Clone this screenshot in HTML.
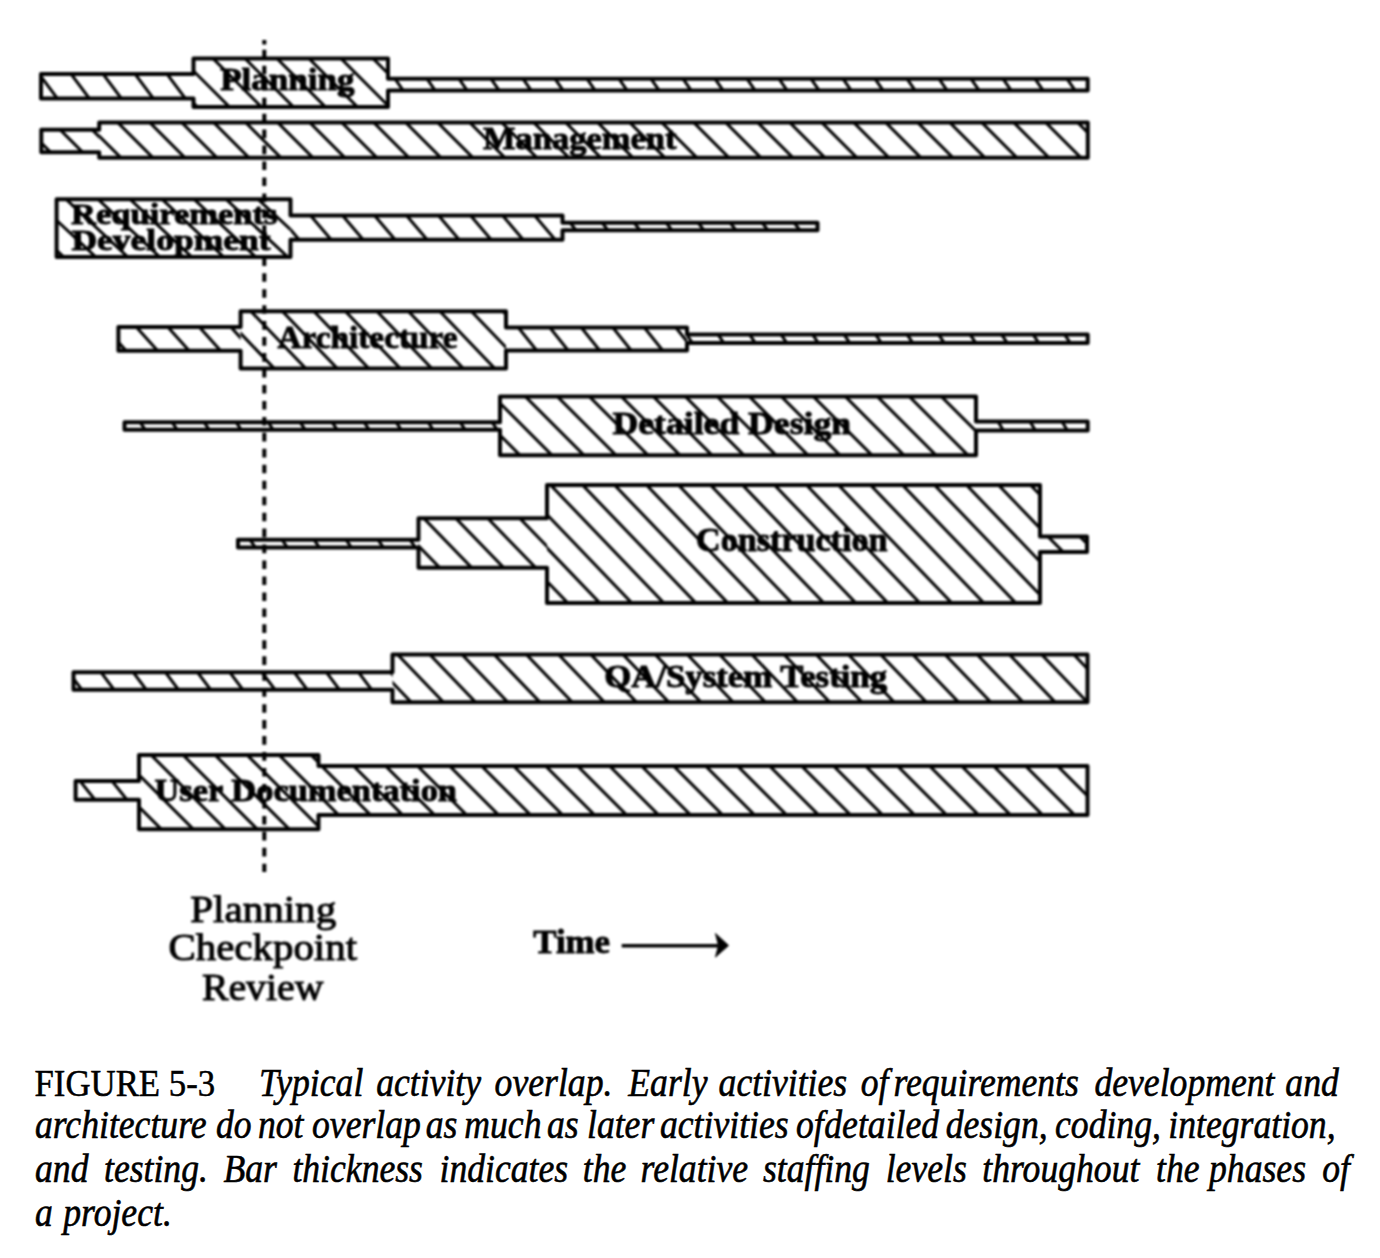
<!DOCTYPE html><html><head><meta charset="utf-8"><style>html,body{margin:0;padding:0;background:#fff;width:1380px;height:1258px;overflow:hidden}svg{display:block;position:absolute;left:0;top:0}#fig{filter:blur(0.8px)}text{font-family:"Liberation Serif",serif}</style></head><body>
<svg id="fig" width="1380" height="1258" viewBox="0 0 1380 1258">
<rect width="100%" height="100%" fill="#fff"/>
<g><svg x="41.0" y="74.0" width="152.5" height="24.5" viewBox="41.0 74.0 152.5 24.5" overflow="hidden"><path d="M-27.2 71.0L-4.4 101.5M4.8 71.0L27.6 101.5M36.8 71.0L59.6 101.5M68.8 71.0L91.6 101.5M100.8 71.0L123.6 101.5M132.8 71.0L155.6 101.5M164.8 71.0L187.6 101.5M196.8 71.0L219.6 101.5M228.8 71.0L251.6 101.5" stroke="#000" stroke-width="3.0" fill="none"/></svg><svg x="193.5" y="58.5" width="194.5" height="48.5" viewBox="193.5 58.5 194.5 48.5" overflow="hidden"><path d="M82.0 55.5L136.5 110.0M114.0 55.5L168.5 110.0M146.0 55.5L200.5 110.0M178.0 55.5L232.5 110.0M210.0 55.5L264.5 110.0M242.0 55.5L296.5 110.0M274.0 55.5L328.5 110.0M306.0 55.5L360.5 110.0M338.0 55.5L392.5 110.0M370.0 55.5L424.5 110.0M402.0 55.5L456.5 110.0M434.0 55.5L488.5 110.0" stroke="#000" stroke-width="3.0" fill="none"/></svg><svg x="388.0" y="78.8" width="699.7" height="11.6" viewBox="388.0 78.8 699.7 11.6" overflow="hidden"><path d="M328.9 75.8L341.2 93.4M360.9 75.8L373.2 93.4M392.9 75.8L405.2 93.4M424.9 75.8L437.2 93.4M456.9 75.8L469.2 93.4M488.9 75.8L501.2 93.4M520.9 75.8L533.2 93.4M552.9 75.8L565.2 93.4M584.9 75.8L597.2 93.4M616.9 75.8L629.2 93.4M648.9 75.8L661.2 93.4M680.9 75.8L693.2 93.4M712.9 75.8L725.2 93.4M744.9 75.8L757.2 93.4M776.9 75.8L789.2 93.4M808.9 75.8L821.2 93.4M840.9 75.8L853.2 93.4M872.9 75.8L885.2 93.4M904.9 75.8L917.2 93.4M936.9 75.8L949.2 93.4M968.9 75.8L981.2 93.4M1000.9 75.8L1013.2 93.4M1032.9 75.8L1045.2 93.4M1064.9 75.8L1077.2 93.4M1096.9 75.8L1109.2 93.4M1128.9 75.8L1141.2 93.4" stroke="#000" stroke-width="3.0" fill="none"/></svg></g>
<polygon points="41.0,74.0 193.5,74.0 193.5,58.5 388.0,58.5 388.0,78.8 1087.7,78.8 1087.7,90.4 388.0,90.4 388.0,107.0 193.5,107.0 193.5,98.5 41.0,98.5" fill="none" stroke="#000" stroke-width="4.0" stroke-linejoin="round"/>
<g><svg x="41.3" y="129.7" width="57.9" height="22.6" viewBox="41.3 129.7 57.9 22.6" overflow="hidden"><path d="M-38.9 126.7L-10.3 155.3M-6.9 126.7L21.7 155.3M25.1 126.7L53.7 155.3M57.1 126.7L85.7 155.3M89.1 126.7L117.7 155.3M121.1 126.7L149.7 155.3M153.1 126.7L181.7 155.3" stroke="#000" stroke-width="3.0" fill="none"/></svg><svg x="99.2" y="122.5" width="988.6" height="35.2" viewBox="99.2 122.5 988.6 35.2" overflow="hidden"><path d="M18.7 119.5L59.9 160.7M50.7 119.5L91.9 160.7M82.7 119.5L123.9 160.7M114.7 119.5L155.9 160.7M146.7 119.5L187.9 160.7M178.7 119.5L219.9 160.7M210.7 119.5L251.9 160.7M242.7 119.5L283.9 160.7M274.7 119.5L315.9 160.7M306.7 119.5L347.9 160.7M338.7 119.5L379.9 160.7M370.7 119.5L411.9 160.7M402.7 119.5L443.9 160.7M434.7 119.5L475.9 160.7M466.7 119.5L507.9 160.7M498.7 119.5L539.9 160.7M530.7 119.5L571.9 160.7M562.7 119.5L603.9 160.7M594.7 119.5L635.9 160.7M626.7 119.5L667.9 160.7M658.7 119.5L699.9 160.7M690.7 119.5L731.9 160.7M722.7 119.5L763.9 160.7M754.7 119.5L795.9 160.7M786.7 119.5L827.9 160.7M818.7 119.5L859.9 160.7M850.7 119.5L891.9 160.7M882.7 119.5L923.9 160.7M914.7 119.5L955.9 160.7M946.7 119.5L987.9 160.7M978.7 119.5L1019.9 160.7M1010.7 119.5L1051.9 160.7M1042.7 119.5L1083.9 160.7M1074.7 119.5L1115.9 160.7M1106.7 119.5L1147.9 160.7M1138.7 119.5L1179.9 160.7" stroke="#000" stroke-width="3.0" fill="none"/></svg></g>
<polygon points="41.3,129.7 99.2,129.7 99.2,122.5 1087.8,122.5 1087.8,157.7 99.2,157.7 99.2,152.3 41.3,152.3" fill="none" stroke="#000" stroke-width="4.0" stroke-linejoin="round"/>
<g><svg x="56.6" y="199.3" width="233.9" height="57.6" viewBox="56.6 199.3 233.9 57.6" overflow="hidden"><path d="M-65.1 196.3L2.9 259.9M-33.1 196.3L34.9 259.9M-1.1 196.3L66.9 259.9M30.9 196.3L98.9 259.9M62.9 196.3L130.9 259.9M94.9 196.3L162.9 259.9M126.9 196.3L194.9 259.9M158.9 196.3L226.9 259.9M190.9 196.3L258.9 259.9M222.9 196.3L290.9 259.9M254.9 196.3L322.9 259.9M286.9 196.3L354.9 259.9M318.9 196.3L386.9 259.9M350.9 196.3L418.9 259.9" stroke="#000" stroke-width="3.0" fill="none"/></svg><svg x="290.5" y="215.4" width="272.0" height="24.3" viewBox="290.5 215.4 272.0 24.3" overflow="hidden"><path d="M211.9 212.4L237.7 242.7M243.9 212.4L269.7 242.7M275.9 212.4L301.7 242.7M307.9 212.4L333.7 242.7M339.9 212.4L365.7 242.7M371.9 212.4L397.7 242.7M403.9 212.4L429.7 242.7M435.9 212.4L461.7 242.7M467.9 212.4L493.7 242.7M499.9 212.4L525.7 242.7M532.0 212.4L557.7 242.7M564.0 212.4L589.7 242.7M596.0 212.4L621.7 242.7" stroke="#000" stroke-width="3.0" fill="none"/></svg><svg x="562.5" y="222.7" width="255.0" height="7.6" viewBox="562.5 222.7 255.0 7.6" overflow="hidden"><path d="M503.6 219.7L514.5 233.3M535.6 219.7L546.5 233.3M567.6 219.7L578.5 233.3M599.6 219.7L610.5 233.3M631.6 219.7L642.5 233.3M663.6 219.7L674.5 233.3M695.6 219.7L706.5 233.3M727.6 219.7L738.5 233.3M759.6 219.7L770.5 233.3M791.6 219.7L802.5 233.3M823.6 219.7L834.5 233.3M855.6 219.7L866.5 233.3" stroke="#000" stroke-width="3.0" fill="none"/></svg></g>
<polygon points="56.6,199.3 290.5,199.3 290.5,215.4 562.5,215.4 562.5,222.7 817.5,222.7 817.5,230.3 562.5,230.3 562.5,239.7 290.5,239.7 290.5,256.9 56.6,256.9" fill="none" stroke="#000" stroke-width="4.0" stroke-linejoin="round"/>
<g><svg x="118.4" y="327.0" width="122.2" height="23.7" viewBox="118.4 327.0 122.2 23.7" overflow="hidden"><path d="M39.1 324.0L65.8 353.7M70.6 324.0L97.3 353.7M102.1 324.0L128.8 353.7M133.6 324.0L160.3 353.7M165.1 324.0L191.8 353.7M196.6 324.0L223.3 353.7M228.1 324.0L254.8 353.7M259.6 324.0L286.3 353.7M291.1 324.0L317.8 353.7" stroke="#000" stroke-width="3.0" fill="none"/></svg><svg x="240.6" y="311.3" width="265.4" height="57.1" viewBox="240.6 311.3 265.4 57.1" overflow="hidden"><path d="M122.0 308.3L182.6 371.4M153.5 308.3L214.1 371.4M185.0 308.3L245.6 371.4M216.5 308.3L277.1 371.4M248.0 308.3L308.6 371.4M279.5 308.3L340.1 371.4M311.0 308.3L371.6 371.4M342.5 308.3L403.1 371.4M374.0 308.3L434.6 371.4M405.5 308.3L466.1 371.4M437.0 308.3L497.6 371.4M468.5 308.3L529.1 371.4M500.0 308.3L560.6 371.4M531.5 308.3L592.1 371.4M563.0 308.3L623.6 371.4" stroke="#000" stroke-width="3.0" fill="none"/></svg><svg x="506.0" y="327.5" width="181.0" height="23.0" viewBox="506.0 327.5 181.0 23.0" overflow="hidden"><path d="M421.4 324.5L444.6 353.5M452.9 324.5L476.1 353.5M484.4 324.5L507.6 353.5M515.9 324.5L539.1 353.5M547.4 324.5L570.6 353.5M578.9 324.5L602.1 353.5M610.4 324.5L633.6 353.5M641.9 324.5L665.1 353.5M673.4 324.5L696.6 353.5M704.9 324.5L728.1 353.5M736.4 324.5L759.6 353.5" stroke="#000" stroke-width="3.0" fill="none"/></svg><svg x="687.0" y="334.5" width="400.7" height="8.5" viewBox="687.0 334.5 400.7 8.5" overflow="hidden"><path d="M621.4 331.5L631.5 346.0M652.9 331.5L663.0 346.0M684.4 331.5L694.5 346.0M715.9 331.5L726.0 346.0M747.4 331.5L757.5 346.0M778.9 331.5L789.0 346.0M810.4 331.5L820.5 346.0M841.9 331.5L852.0 346.0M873.4 331.5L883.5 346.0M904.9 331.5L915.0 346.0M936.4 331.5L946.5 346.0M967.9 331.5L978.0 346.0M999.4 331.5L1009.5 346.0M1030.9 331.5L1041.0 346.0M1062.4 331.5L1072.5 346.0M1093.9 331.5L1104.0 346.0M1125.4 331.5L1135.5 346.0" stroke="#000" stroke-width="3.0" fill="none"/></svg></g>
<polygon points="118.4,327.0 240.6,327.0 240.6,311.3 506.0,311.3 506.0,327.5 687.0,327.5 687.0,334.5 1087.7,334.5 1087.7,343.0 687.0,343.0 687.0,350.5 506.0,350.5 506.0,368.4 240.6,368.4 240.6,350.7 118.4,350.7" fill="none" stroke="#000" stroke-width="4.0" stroke-linejoin="round"/>
<g><svg x="124.5" y="422.2" width="375.5" height="7.6" viewBox="124.5 422.2 375.5 7.6" overflow="hidden"><path d="M73.9 419.2L83.4 432.8M105.9 419.2L115.4 432.8M137.9 419.2L147.4 432.8M169.9 419.2L179.4 432.8M201.9 419.2L211.4 432.8M233.9 419.2L243.4 432.8M265.9 419.2L275.4 432.8M297.9 419.2L307.4 432.8M329.9 419.2L339.4 432.8M361.9 419.2L371.4 432.8M393.9 419.2L403.4 432.8M425.9 419.2L435.4 432.8M457.9 419.2L467.4 432.8M489.9 419.2L499.4 432.8M521.9 419.2L531.4 432.8M553.9 419.2L563.4 432.8" stroke="#000" stroke-width="3.0" fill="none"/></svg><svg x="500.0" y="396.6" width="476.0" height="58.7" viewBox="500.0 396.6 476.0 58.7" overflow="hidden"><path d="M394.4 393.6L459.1 458.3M426.4 393.6L491.1 458.3M458.4 393.6L523.1 458.3M490.4 393.6L555.1 458.3M522.4 393.6L587.1 458.3M554.4 393.6L619.1 458.3M586.4 393.6L651.1 458.3M618.4 393.6L683.1 458.3M650.4 393.6L715.1 458.3M682.4 393.6L747.1 458.3M714.4 393.6L779.1 458.3M746.4 393.6L811.1 458.3M778.4 393.6L843.1 458.3M810.4 393.6L875.1 458.3M842.4 393.6L907.1 458.3M874.4 393.6L939.1 458.3M906.4 393.6L971.1 458.3M938.4 393.6L1003.1 458.3M970.4 393.6L1035.1 458.3M1002.4 393.6L1067.1 458.3M1034.4 393.6L1099.1 458.3" stroke="#000" stroke-width="3.0" fill="none"/></svg><svg x="976.0" y="421.5" width="111.7" height="9.0" viewBox="976.0 421.5 111.7 9.0" overflow="hidden"><path d="M932.2 418.5L941.2 433.5M964.2 418.5L973.2 433.5M996.2 418.5L1005.2 433.5M1028.2 418.5L1037.2 433.5M1060.2 418.5L1069.2 433.5M1092.2 418.5L1101.2 433.5M1124.2 418.5L1133.2 433.5" stroke="#000" stroke-width="3.0" fill="none"/></svg></g>
<polygon points="124.5,422.2 500.0,422.2 500.0,396.6 976.0,396.6 976.0,421.5 1087.7,421.5 1087.7,430.5 976.0,430.5 976.0,455.3 500.0,455.3 500.0,429.8 124.5,429.8" fill="none" stroke="#000" stroke-width="4.0" stroke-linejoin="round"/>
<g><svg x="238.0" y="539.8" width="180.5" height="7.8" viewBox="238.0 539.8 180.5 7.8" overflow="hidden"><path d="M183.9 536.8L193.6 550.6M215.9 536.8L225.6 550.6M247.9 536.8L257.6 550.6M279.9 536.8L289.6 550.6M311.9 536.8L321.6 550.6M343.9 536.8L353.6 550.6M375.9 536.8L385.6 550.6M407.9 536.8L417.6 550.6M439.9 536.8L449.6 550.6M471.9 536.8L481.6 550.6" stroke="#000" stroke-width="3.0" fill="none"/></svg><svg x="418.5" y="518.2" width="128.5" height="49.6" viewBox="418.5 518.2 128.5 49.6" overflow="hidden"><path d="M324.8 515.2L378.7 570.8M356.8 515.2L410.7 570.8M388.8 515.2L442.7 570.8M420.8 515.2L474.7 570.8M452.8 515.2L506.7 570.8M484.8 515.2L538.7 570.8M516.8 515.2L570.7 570.8M548.8 515.2L602.7 570.8M580.8 515.2L634.7 570.8" stroke="#000" stroke-width="3.0" fill="none"/></svg><svg x="547.0" y="485.0" width="493.0" height="118.0" viewBox="547.0 485.0 493.0 118.0" overflow="hidden"><path d="M387.6 482.0L506.7 606.0M419.6 482.0L538.7 606.0M451.6 482.0L570.7 606.0M483.6 482.0L602.7 606.0M515.6 482.0L634.7 606.0M547.6 482.0L666.7 606.0M579.6 482.0L698.7 606.0M611.6 482.0L730.7 606.0M643.6 482.0L762.7 606.0M675.6 482.0L794.7 606.0M707.6 482.0L826.7 606.0M739.6 482.0L858.7 606.0M771.6 482.0L890.7 606.0M803.6 482.0L922.7 606.0M835.6 482.0L954.7 606.0M867.6 482.0L986.7 606.0M899.6 482.0L1018.7 606.0M931.6 482.0L1050.7 606.0M963.6 482.0L1082.7 606.0M995.6 482.0L1114.7 606.0M1027.6 482.0L1146.7 606.0M1059.6 482.0L1178.7 606.0M1091.6 482.0L1210.7 606.0" stroke="#000" stroke-width="3.0" fill="none"/></svg><svg x="1040.0" y="536.5" width="47.0" height="15.5" viewBox="1040.0 536.5 47.0 15.5" overflow="hidden"><path d="M980.8 533.5L1002.3 555.0M1012.8 533.5L1034.3 555.0M1044.8 533.5L1066.3 555.0M1076.8 533.5L1098.3 555.0M1108.8 533.5L1130.3 555.0M1140.8 533.5L1162.3 555.0" stroke="#000" stroke-width="3.0" fill="none"/></svg></g>
<polygon points="238.0,539.8 418.5,539.8 418.5,518.2 547.0,518.2 547.0,485.0 1040.0,485.0 1040.0,536.5 1087.0,536.5 1087.0,552.0 1040.0,552.0 1040.0,603.0 547.0,603.0 547.0,567.8 418.5,567.8 418.5,547.6 238.0,547.6" fill="none" stroke="#000" stroke-width="4.0" stroke-linejoin="round"/>
<g><svg x="73.5" y="672.2" width="319.0" height="17.5" viewBox="73.5 672.2 319.0 17.5" overflow="hidden"><path d="M2.0 669.2L19.7 692.7M34.2 669.2L51.9 692.7M66.5 669.2L84.1 692.7M98.7 669.2L116.3 692.7M130.9 669.2L148.5 692.7M163.1 669.2L180.7 692.7M195.2 669.2L212.9 692.7M227.5 669.2L245.1 692.7M259.6 669.2L277.3 692.7M291.9 669.2L309.5 692.7M324.1 669.2L341.7 692.7M356.2 669.2L373.9 692.7M388.5 669.2L406.1 692.7M420.6 669.2L438.3 692.7M452.9 669.2L470.5 692.7" stroke="#000" stroke-width="3.0" fill="none"/></svg><svg x="392.5" y="654.5" width="695.0" height="47.7" viewBox="392.5 654.5 695.0 47.7" overflow="hidden"><path d="M298.1 651.5L349.7 705.2M330.3 651.5L381.9 705.2M362.5 651.5L414.1 705.2M394.7 651.5L446.3 705.2M426.9 651.5L478.5 705.2M459.1 651.5L510.7 705.2M491.3 651.5L542.9 705.2M523.5 651.5L575.1 705.2M555.7 651.5L607.3 705.2M587.9 651.5L639.5 705.2M620.1 651.5L671.7 705.2M652.3 651.5L703.9 705.2M684.5 651.5L736.1 705.2M716.7 651.5L768.3 705.2M748.9 651.5L800.5 705.2M781.1 651.5L832.7 705.2M813.3 651.5L864.9 705.2M845.5 651.5L897.1 705.2M877.7 651.5L929.3 705.2M909.9 651.5L961.5 705.2M942.1 651.5L993.7 705.2M974.3 651.5L1025.9 705.2M1006.5 651.5L1058.1 705.2M1038.7 651.5L1090.3 705.2M1070.9 651.5L1122.5 705.2M1103.1 651.5L1154.7 705.2M1135.3 651.5L1186.9 705.2" stroke="#000" stroke-width="3.0" fill="none"/></svg></g>
<polygon points="73.5,672.2 392.5,672.2 392.5,654.5 1087.5,654.5 1087.5,702.2 392.5,702.2 392.5,689.7 73.5,689.7" fill="none" stroke="#000" stroke-width="4.0" stroke-linejoin="round"/>
<g><svg x="75.6" y="781.0" width="63.4" height="18.8" viewBox="75.6 781.0 63.4 18.8" overflow="hidden"><path d="M13.6 778.0L33.4 802.8M45.6 778.0L65.4 802.8M77.6 778.0L97.4 802.8M109.6 778.0L129.4 802.8M141.6 778.0L161.4 802.8M173.6 778.0L193.4 802.8" stroke="#000" stroke-width="3.0" fill="none"/></svg><svg x="139.0" y="754.9" width="179.5" height="74.3" viewBox="139.0 754.9 179.5 74.3" overflow="hidden"><path d="M20.0 751.9L100.3 832.2M52.0 751.9L132.3 832.2M84.0 751.9L164.3 832.2M116.0 751.9L196.3 832.2M148.0 751.9L228.3 832.2M180.0 751.9L260.3 832.2M212.0 751.9L292.3 832.2M244.0 751.9L324.3 832.2M276.0 751.9L356.3 832.2M308.0 751.9L388.3 832.2M340.0 751.9L420.3 832.2M372.0 751.9L452.3 832.2" stroke="#000" stroke-width="3.0" fill="none"/></svg><svg x="318.5" y="766.0" width="769.0" height="49.0" viewBox="318.5 766.0 769.0 49.0" overflow="hidden"><path d="M222.6 763.0L277.6 818.0M254.6 763.0L309.6 818.0M286.6 763.0L341.6 818.0M318.6 763.0L373.6 818.0M350.6 763.0L405.6 818.0M382.6 763.0L437.6 818.0M414.6 763.0L469.6 818.0M446.6 763.0L501.6 818.0M478.6 763.0L533.6 818.0M510.6 763.0L565.6 818.0M542.6 763.0L597.6 818.0M574.6 763.0L629.6 818.0M606.6 763.0L661.6 818.0M638.6 763.0L693.6 818.0M670.6 763.0L725.6 818.0M702.6 763.0L757.6 818.0M734.6 763.0L789.6 818.0M766.6 763.0L821.6 818.0M798.6 763.0L853.6 818.0M830.6 763.0L885.6 818.0M862.6 763.0L917.6 818.0M894.6 763.0L949.6 818.0M926.6 763.0L981.6 818.0M958.6 763.0L1013.6 818.0M990.6 763.0L1045.6 818.0M1022.6 763.0L1077.6 818.0M1054.6 763.0L1109.6 818.0M1086.6 763.0L1141.6 818.0M1118.6 763.0L1173.6 818.0M1150.6 763.0L1205.6 818.0" stroke="#000" stroke-width="3.0" fill="none"/></svg></g>
<polygon points="75.6,781.0 139.0,781.0 139.0,754.9 318.5,754.9 318.5,766.0 1087.5,766.0 1087.5,815.0 318.5,815.0 318.5,829.2 139.0,829.2 139.0,799.8 75.6,799.8" fill="none" stroke="#000" stroke-width="4.0" stroke-linejoin="round"/>
<line x1="264.3" y1="49.8" x2="264.3" y2="872" stroke="#000" stroke-width="4.0" stroke-dasharray="8.6 7.36"/>
<rect x="262.3" y="40" width="4" height="4.5" fill="#000"/>
<text x="220.2" y="90.4" font-size="30.5" font-weight="bold" font-style="normal" textLength="134.3" lengthAdjust="spacingAndGlyphs" fill="#000" stroke="#000" stroke-width="0.90">Planning</text>
<text x="483.0" y="148.7" font-size="31.5" font-weight="bold" font-style="normal" textLength="193.5" lengthAdjust="spacingAndGlyphs" fill="#000" stroke="#000" stroke-width="0.90">Management</text>
<text x="71.1" y="224.0" font-size="29.5" font-weight="bold" font-style="normal" textLength="206.4" lengthAdjust="spacingAndGlyphs" fill="#000" stroke="#000" stroke-width="0.90">Requirements</text>
<text x="71.5" y="249.5" font-size="29.5" font-weight="bold" font-style="normal" textLength="199.0" lengthAdjust="spacingAndGlyphs" fill="#000" stroke="#000" stroke-width="0.90">Development</text>
<text x="277.5" y="347.5" font-size="32.0" font-weight="bold" font-style="normal" textLength="180.0" lengthAdjust="spacingAndGlyphs" fill="#000" stroke="#000" stroke-width="0.90">Architecture</text>
<text x="612.5" y="433.5" font-size="31.0" font-weight="bold" font-style="normal" textLength="238.6" lengthAdjust="spacingAndGlyphs" fill="#000" stroke="#000" stroke-width="0.90">Detailed Design</text>
<text x="696.0" y="550.7" font-size="33.0" font-weight="bold" font-style="normal" textLength="191.5" lengthAdjust="spacingAndGlyphs" fill="#000" stroke="#000" stroke-width="0.90">Construction</text>
<text x="604.2" y="687.0" font-size="31.0" font-weight="bold" font-style="normal" textLength="282.9" lengthAdjust="spacingAndGlyphs" fill="#000" stroke="#000" stroke-width="0.90">QA/System Testing</text>
<text x="154.5" y="800.7" font-size="31.0" font-weight="bold" font-style="normal" textLength="302.5" lengthAdjust="spacingAndGlyphs" fill="#000" stroke="#000" stroke-width="0.90">User Documentation</text>
<text x="190.2" y="921.5" font-size="37.0" font-weight="normal" font-style="normal" textLength="146.0" lengthAdjust="spacingAndGlyphs" fill="#000" stroke="#000" stroke-width="1.00">Planning</text>
<text x="168.5" y="960.4" font-size="37.0" font-weight="normal" font-style="normal" textLength="188.5" lengthAdjust="spacingAndGlyphs" fill="#000" stroke="#000" stroke-width="1.00">Checkpoint</text>
<text x="201.9" y="1000.3" font-size="37.0" font-weight="normal" font-style="normal" textLength="121.6" lengthAdjust="spacingAndGlyphs" fill="#000" stroke="#000" stroke-width="1.00">Review</text>
<text x="533.3" y="952.6" font-size="33.0" font-weight="bold" font-style="normal" textLength="76.8" lengthAdjust="spacingAndGlyphs" fill="#000" stroke="#000" stroke-width="0.90">Time</text>
<line x1="621.7" y1="945.7" x2="718" y2="945.7" stroke="#000" stroke-width="3.6"/>
<polygon points="715.5,933.5 728.5,945.5 715.5,957 718.5,945.5" fill="#000" stroke="#000" stroke-width="1" stroke-linejoin="round"/>
</svg>
<svg width="1380" height="1258" viewBox="0 0 1380 1258">
<text x="34.5" y="1095.7" font-size="37.0" font-weight="normal" font-style="normal" textLength="180.6" lengthAdjust="spacingAndGlyphs" fill="#000" stroke="#000" stroke-width="0.50">FIGURE 5-3</text>
<text x="259.0" y="1095.7" font-size="40.5" font-weight="normal" font-style="italic" textLength="104.3" lengthAdjust="spacingAndGlyphs" fill="#000" stroke="#000" stroke-width="0.60">Typical</text>
<text x="376.2" y="1095.7" font-size="40.5" font-weight="normal" font-style="italic" textLength="104.9" lengthAdjust="spacingAndGlyphs" fill="#000" stroke="#000" stroke-width="0.60">activity</text>
<text x="494.6" y="1095.7" font-size="40.5" font-weight="normal" font-style="italic" textLength="117.8" lengthAdjust="spacingAndGlyphs" fill="#000" stroke="#000" stroke-width="0.60">overlap.</text>
<text x="628.3" y="1095.7" font-size="40.5" font-weight="normal" font-style="italic" textLength="79.2" lengthAdjust="spacingAndGlyphs" fill="#000" stroke="#000" stroke-width="0.60">Early</text>
<text x="718.6" y="1095.7" font-size="40.5" font-weight="normal" font-style="italic" textLength="128.6" lengthAdjust="spacingAndGlyphs" fill="#000" stroke="#000" stroke-width="0.60">activities</text>
<text x="860.8" y="1095.7" font-size="40.5" font-weight="normal" font-style="italic" textLength="27.7" lengthAdjust="spacingAndGlyphs" fill="#000" stroke="#000" stroke-width="0.60">of</text>
<text x="893.5" y="1095.7" font-size="40.5" font-weight="normal" font-style="italic" textLength="185.4" lengthAdjust="spacingAndGlyphs" fill="#000" stroke="#000" stroke-width="0.60">requirements</text>
<text x="1094.4" y="1095.7" font-size="40.5" font-weight="normal" font-style="italic" textLength="180.1" lengthAdjust="spacingAndGlyphs" fill="#000" stroke="#000" stroke-width="0.60">development</text>
<text x="1285.3" y="1095.7" font-size="40.5" font-weight="normal" font-style="italic" textLength="53.5" lengthAdjust="spacingAndGlyphs" fill="#000" stroke="#000" stroke-width="0.60">and</text>
<text x="35.0" y="1137.6" font-size="40.5" font-weight="normal" font-style="italic" textLength="171.5" lengthAdjust="spacingAndGlyphs" fill="#000" stroke="#000" stroke-width="0.60">architecture</text>
<text x="216.0" y="1137.6" font-size="40.5" font-weight="normal" font-style="italic" textLength="35.6" lengthAdjust="spacingAndGlyphs" fill="#000" stroke="#000" stroke-width="0.60">do</text>
<text x="258.0" y="1137.6" font-size="40.5" font-weight="normal" font-style="italic" textLength="45.5" lengthAdjust="spacingAndGlyphs" fill="#000" stroke="#000" stroke-width="0.60">not</text>
<text x="312.0" y="1137.6" font-size="40.5" font-weight="normal" font-style="italic" textLength="108.9" lengthAdjust="spacingAndGlyphs" fill="#000" stroke="#000" stroke-width="0.60">overlap</text>
<text x="425.8" y="1137.6" font-size="40.5" font-weight="normal" font-style="italic" textLength="31.7" lengthAdjust="spacingAndGlyphs" fill="#000" stroke="#000" stroke-width="0.60">as</text>
<text x="464.3" y="1137.6" font-size="40.5" font-weight="normal" font-style="italic" textLength="77.2" lengthAdjust="spacingAndGlyphs" fill="#000" stroke="#000" stroke-width="0.60">much</text>
<text x="547.0" y="1137.6" font-size="40.5" font-weight="normal" font-style="italic" textLength="31.7" lengthAdjust="spacingAndGlyphs" fill="#000" stroke="#000" stroke-width="0.60">as</text>
<text x="587.0" y="1137.6" font-size="40.5" font-weight="normal" font-style="italic" textLength="67.3" lengthAdjust="spacingAndGlyphs" fill="#000" stroke="#000" stroke-width="0.60">later</text>
<text x="660.0" y="1137.6" font-size="40.5" font-weight="normal" font-style="italic" textLength="128.6" lengthAdjust="spacingAndGlyphs" fill="#000" stroke="#000" stroke-width="0.60">activities</text>
<text x="796.0" y="1137.6" font-size="40.5" font-weight="normal" font-style="italic" textLength="27.7" lengthAdjust="spacingAndGlyphs" fill="#000" stroke="#000" stroke-width="0.60">of</text>
<text x="824.3" y="1137.6" font-size="40.5" font-weight="normal" font-style="italic" textLength="114.8" lengthAdjust="spacingAndGlyphs" fill="#000" stroke="#000" stroke-width="0.60">detailed</text>
<text x="945.7" y="1137.6" font-size="40.5" font-weight="normal" font-style="italic" textLength="102.0" lengthAdjust="spacingAndGlyphs" fill="#000" stroke="#000" stroke-width="0.60">design,</text>
<text x="1055.0" y="1137.6" font-size="40.5" font-weight="normal" font-style="italic" textLength="105.9" lengthAdjust="spacingAndGlyphs" fill="#000" stroke="#000" stroke-width="0.60">coding,</text>
<text x="1168.3" y="1137.6" font-size="40.5" font-weight="normal" font-style="italic" textLength="167.3" lengthAdjust="spacingAndGlyphs" fill="#000" stroke="#000" stroke-width="0.60">integration,</text>
<text x="35.0" y="1182.0" font-size="40.5" font-weight="normal" font-style="italic" textLength="53.5" lengthAdjust="spacingAndGlyphs" fill="#000" stroke="#000" stroke-width="0.60">and</text>
<text x="104.0" y="1182.0" font-size="40.5" font-weight="normal" font-style="italic" textLength="103.9" lengthAdjust="spacingAndGlyphs" fill="#000" stroke="#000" stroke-width="0.60">testing.</text>
<text x="223.4" y="1182.0" font-size="40.5" font-weight="normal" font-style="italic" textLength="53.5" lengthAdjust="spacingAndGlyphs" fill="#000" stroke="#000" stroke-width="0.60">Bar</text>
<text x="292.4" y="1182.0" font-size="40.5" font-weight="normal" font-style="italic" textLength="130.6" lengthAdjust="spacingAndGlyphs" fill="#000" stroke="#000" stroke-width="0.60">thickness</text>
<text x="439.5" y="1182.0" font-size="40.5" font-weight="normal" font-style="italic" textLength="128.7" lengthAdjust="spacingAndGlyphs" fill="#000" stroke="#000" stroke-width="0.60">indicates</text>
<text x="582.8" y="1182.0" font-size="40.5" font-weight="normal" font-style="italic" textLength="43.5" lengthAdjust="spacingAndGlyphs" fill="#000" stroke="#000" stroke-width="0.60">the</text>
<text x="640.6" y="1182.0" font-size="40.5" font-weight="normal" font-style="italic" textLength="107.5" lengthAdjust="spacingAndGlyphs" fill="#000" stroke="#000" stroke-width="0.60">relative</text>
<text x="763.0" y="1182.0" font-size="40.5" font-weight="normal" font-style="italic" textLength="106.9" lengthAdjust="spacingAndGlyphs" fill="#000" stroke="#000" stroke-width="0.60">staffing</text>
<text x="885.7" y="1182.0" font-size="40.5" font-weight="normal" font-style="italic" textLength="81.1" lengthAdjust="spacingAndGlyphs" fill="#000" stroke="#000" stroke-width="0.60">levels</text>
<text x="982.3" y="1182.0" font-size="40.5" font-weight="normal" font-style="italic" textLength="157.1" lengthAdjust="spacingAndGlyphs" fill="#000" stroke="#000" stroke-width="0.60">throughout</text>
<text x="1156.0" y="1182.0" font-size="40.5" font-weight="normal" font-style="italic" textLength="43.5" lengthAdjust="spacingAndGlyphs" fill="#000" stroke="#000" stroke-width="0.60">the</text>
<text x="1209.0" y="1182.0" font-size="40.5" font-weight="normal" font-style="italic" textLength="97.0" lengthAdjust="spacingAndGlyphs" fill="#000" stroke="#000" stroke-width="0.60">phases</text>
<text x="1322.3" y="1182.0" font-size="40.5" font-weight="normal" font-style="italic" textLength="27.7" lengthAdjust="spacingAndGlyphs" fill="#000" stroke="#000" stroke-width="0.60">of</text>
<text x="35.0" y="1226.2" font-size="40.5" font-weight="normal" font-style="italic" textLength="17.8" lengthAdjust="spacingAndGlyphs" fill="#000" stroke="#000" stroke-width="0.60">a</text>
<text x="63.3" y="1226.2" font-size="40.5" font-weight="normal" font-style="italic" textLength="108.5" lengthAdjust="spacingAndGlyphs" fill="#000" stroke="#000" stroke-width="0.60">project.</text>
</svg></body></html>
